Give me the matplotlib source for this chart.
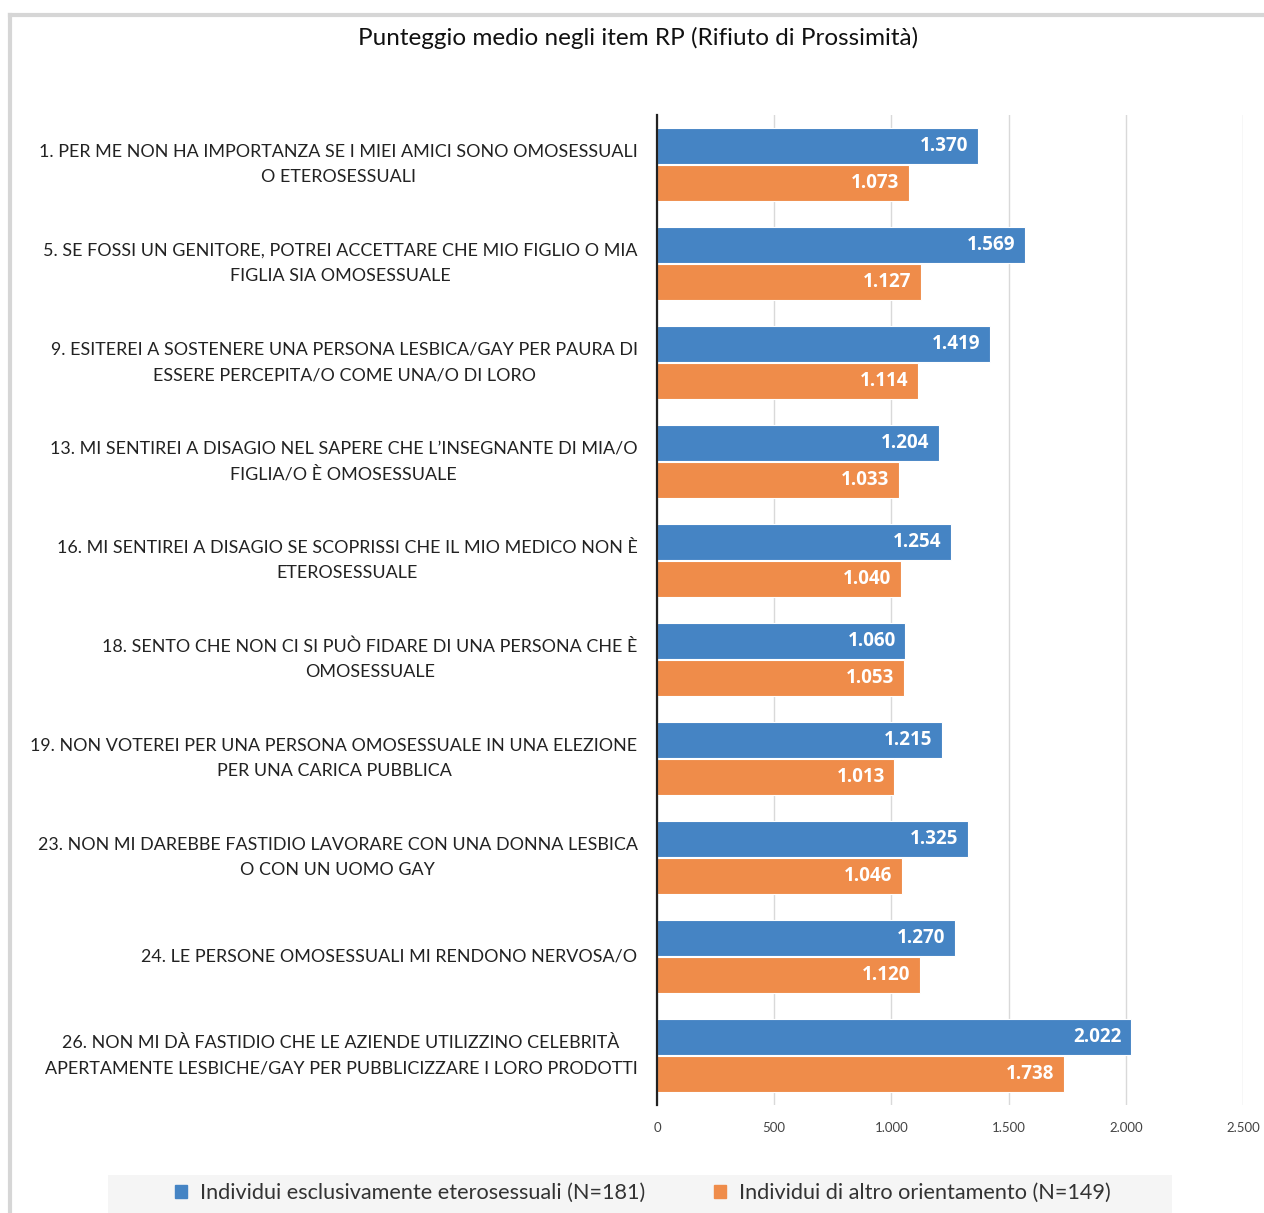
import matplotlib
matplotlib.use("Agg")
import matplotlib.pyplot as plt
from matplotlib.lines import Line2D
from matplotlib.patches import Rectangle
from matplotlib.ticker import FuncFormatter
import numpy as np

plt.rcParams['font.family'] = ['Lato', 'DejaVu Sans']

# dati
items = [
    "1. PER ME NON HA IMPORTANZA SE I MIEI AMICI SONO OMOSESSUALI\nO ETEROSESSUALI",
    "5. SE FOSSI UN GENITORE, POTREI ACCETTARE CHE MIO FIGLIO O MIA\nFIGLIA SIA OMOSESSUALE",
    "9. ESITEREI A SOSTENERE UNA PERSONA LESBICA/GAY PER PAURA DI\nESSERE PERCEPITA/O COME UNA/O DI LORO",
    "13. MI SENTIREI A DISAGIO NEL SAPERE CHE L\u2019INSEGNANTE DI MIA/O\nFIGLIA/O \u00c8 OMOSESSUALE",
    "16. MI SENTIREI A DISAGIO SE SCOPRISSI CHE IL MIO MEDICO NON \u00c8\nETEROSESSUALE",
    "18. SENTO CHE NON CI SI PU\u00d2 FIDARE DI UNA PERSONA CHE \u00c8\nOMOSESSUALE",
    "19. NON VOTEREI PER UNA PERSONA OMOSESSUALE IN UNA ELEZIONE\nPER UNA CARICA PUBBLICA",
    "23. NON MI DAREBBE FASTIDIO LAVORARE CON UNA DONNA LESBICA\nO CON UN UOMO GAY",
    "24. LE PERSONE OMOSESSUALI MI RENDONO NERVOSA/O",
    "26. NON MI D\u00c0 FASTIDIO CHE LE AZIENDE UTILIZZINO CELEBRIT\u00c0\nAPERTAMENTE LESBICHE/GAY PER PUBBLICIZZARE I LORO PRODOTTI",
]
etero = [1.370, 1.569, 1.419, 1.204, 1.254, 1.060, 1.215, 1.325, 1.270, 2.022]
altro = [1.073, 1.127, 1.114, 1.033, 1.040, 1.053, 1.013, 1.046, 1.120, 1.738]
serie_nomi = ["Individui esclusivamente eterosessuali (N=181)",
              "Individui di altro orientamento (N=149)"]
xticks = [0, 0.5, 1.0, 1.5, 2.0, 2.5]

blu = '#4584c4'
arancio = '#ef8c4a'

fig = plt.figure(figsize=(12.64, 12.13), dpi=100)
ax = fig.add_axes([657 / 1264, 1 - 1105 / 1213, (1243 - 657) / 1264, (1105 - 115) / 1213])

y = np.arange(len(items))
h = 0.36
off = h / 2 + 0.01
ax.barh(y - off, etero, height=h, color=blu, edgecolor='white', linewidth=0.8)
ax.barh(y + off, altro, height=h, color=arancio, edgecolor='white', linewidth=0.8)

# etichette dentro la fine della barra
for dy, vals in ((-off, etero), (off, altro)):
    for yi, v in zip(y, vals):
        ax.annotate(f"{v:.3f}", (v, yi + dy), xytext=(-7, 0), textcoords='offset points',
                    ha='right', va='center', color='white', fontsize=13.5,
                    fontweight='bold', family=['Open Sans', 'DejaVu Sans'])

ax.set_ylim(len(items) - 0.5, -0.5)
ax.set_xlim(0, 2.5)
ax.set_xticks(xticks)
ax.xaxis.set_major_formatter(FuncFormatter(
    lambda v, p: f"{int(round(v * 1000)):,}".replace(',', '.')))
ax.tick_params(axis='x', length=0, labelsize=9.5, labelcolor='#444444', pad=12)
ax.set_yticks(y)
ax.set_yticklabels(items, multialignment='center', fontsize=12.9, color='#222222',
                   linespacing=1.7, va='center')
ax.tick_params(axis='y', length=0, pad=14)
ax.grid(axis='x', color='#d9d9d9', linewidth=1)
ax.set_axisbelow(True)
for s in ('top', 'right', 'bottom'):
    ax.spines[s].set_visible(False)
ax.spines['left'].set_color('#222222')
ax.spines['left'].set_linewidth(1.6)
ax.spines['left'].set_zorder(5)

fig.text(638 / 1264, 1 - 38 / 1213, "Punteggio medio negli item RP (Rifiuto di Prossimit\u00e0)",
         ha='center', va='center', fontsize=17.5, color='#111111')

# cornice grigia e fondo legenda
fig.add_artist(Line2D([10 / 1264, 1], [1 - 15 / 1213, 1 - 15 / 1213], color='#d6d6d6', lw=3))
fig.add_artist(Line2D([10 / 1264, 10 / 1264], [0, 1 - 15 / 1213], color='#d6d6d6', lw=3))
fig.add_artist(Rectangle((108 / 1264, 0), (1172 - 108) / 1264, 38 / 1213,
                         transform=fig.transFigure, facecolor='#f5f5f5', edgecolor='none'))

handles = [Rectangle((0, 0), 1, 1, color=blu), Rectangle((0, 0), 1, 1, color=arancio)]
fig.legend(handles, serie_nomi, loc='center', bbox_to_anchor=(643 / 1264, 1 - 1193 / 1213),
           ncol=2, frameon=False, fontsize=15.6, handlelength=0.55, handleheight=0.55,
           handletextpad=0.6, columnspacing=3.2, labelcolor='#333333')

fig.savefig('out.png', dpi=100)
